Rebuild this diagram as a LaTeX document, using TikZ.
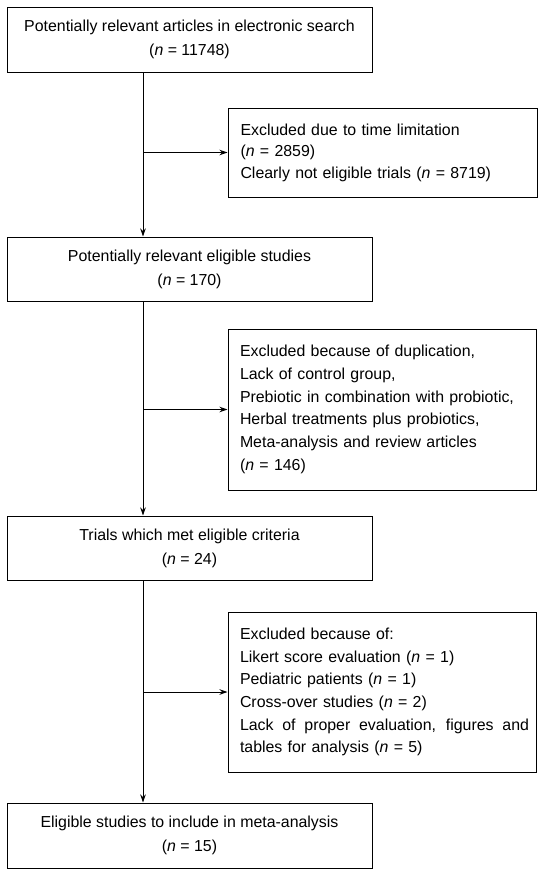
\documentclass[tikz,border=0pt]{standalone}
\usepackage{fontspec}
\setmainfont{Liberation Sans}
\usetikzlibrary{arrows.meta}
\begin{document}
\begin{tikzpicture}[x=1pt,y=-1pt,
  mainbox/.style={draw, line width=1pt, minimum width=365pt, minimum height=64pt, align=center, inner sep=0pt, font=\fontsize{15.9}{24}\selectfont},
  exbox/.style={draw, line width=1pt, minimum width=308pt, text width=294pt, inner xsep=7pt, inner ysep=0pt, align=left, font=\fontsize{15.9}{22.7}\selectfont},
  arr/.style={line width=1pt, -{Stealth[length=8pt,width=5.5pt]}},
]
\useasboundingbox (0,0) rectangle (543,876);
\coordinate (axis) at (143,0);

\node[mainbox, minimum height=65pt] (b1) at (189.5,39.5) {Potentially relevant articles in electronic search\\(\textit{n} = 11748)};
\node[mainbox] (b2) at (189.5,269) {Potentially relevant eligible studies\\(\textit{n} = 170)};
\node[mainbox] (b3) at (189.5,548) {Trials which met eligible criteria\\(\textit{n} = 24)};
\node[mainbox, minimum height=65pt] (b4) at (189.5,835.5) {Eligible studies to include in meta-analysis\\(\textit{n} = 15)};

\node[exbox, minimum width=309pt, minimum height=89pt, font=\fontsize{15.9}{21.5}\selectfont] (e1) at (382.5,152.5) {\leftskip=5pt Excluded due to time limitation\\(\textit{n} = 2859)\\Clearly not eligible trials (\textit{n} = 8719)\par};
\node[exbox, minimum height=161pt] (e2) at (382,409.5) {\leftskip=5pt Excluded because of duplication,\\Lack of control group,\\Prebiotic in combination with probiotic,\\Herbal treatments plus probiotics,\\Meta-analysis and review articles\\(\textit{n} = 146)\par};
\node[exbox, minimum height=160pt] (e3) at (382,692) {\leftskip=5pt Excluded because of:\\Likert score evaluation (\textit{n} = 1)\\Pediatric patients (\textit{n} = 1)\\Cross-over studies (\textit{n} = 2)\\\leavevmode\hbox to 289pt{\spaceskip=0.28em plus 1em\relax Lack of proper evaluation, figures and}\\tables for analysis (\textit{n} = 5)\par};

\draw[arr] (b1.south -| axis) -- (b2.north -| axis);
\draw[arr] (b2.south -| axis) -- (b3.north -| axis);
\draw[arr] (b3.south -| axis) -- (b4.north -| axis);
\draw[arr] (axis |- e1.west) -- (e1.west);
\draw[arr] (axis |- e2.west) -- (e2.west);
\draw[arr] (axis |- e3.west) -- (e3.west);
\end{tikzpicture}
\end{document}
